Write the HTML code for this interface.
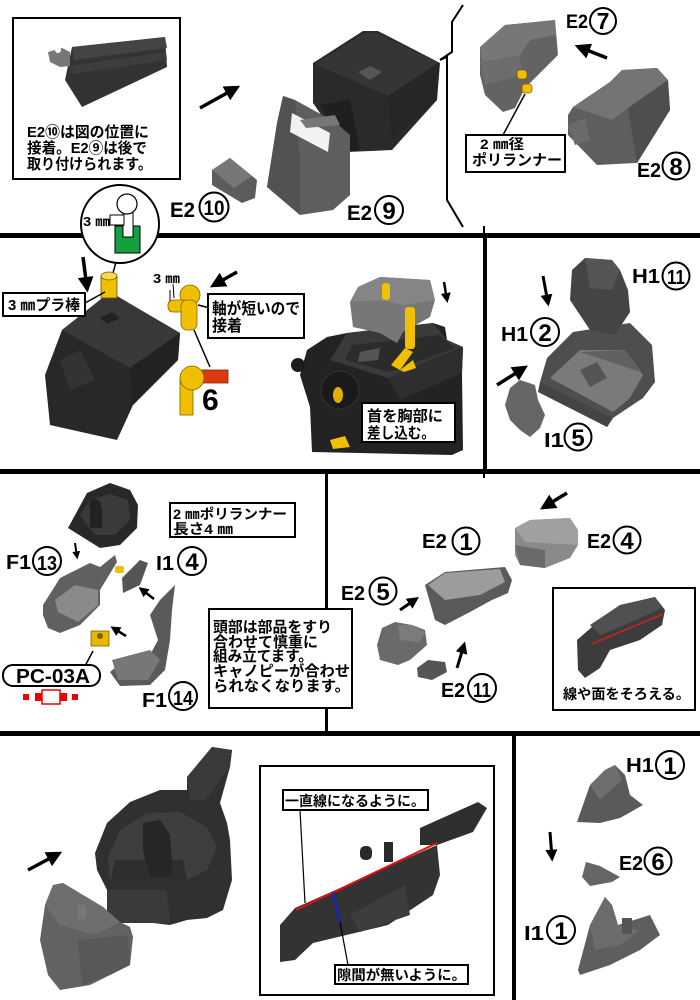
<!DOCTYPE html>
<html><head><meta charset="utf-8"><style>
html,body{margin:0;padding:0;background:#fff;}
svg{display:block;}
.t{font-family:"Liberation Sans","Noto Sans CJK JP",sans-serif;font-weight:bold;fill:#000;}
.lb{font-family:"Liberation Sans",sans-serif;font-weight:bold;fill:#000;}
.box{fill:#fff;stroke:#000;stroke-width:2;}
.cn{fill:#fff;stroke:#000;stroke-width:2;}
.ar{stroke:#000;fill:none;}
</style></head><body>
<svg width="700" height="1000" viewBox="0 0 700 1000" xmlns="http://www.w3.org/2000/svg">
<defs>
<marker id="ah" viewBox="0 0 10 10" refX="7" refY="5" markerWidth="4.5" markerHeight="4.5" orient="auto"><path d="M0,0 L10,5 L0,10 z" fill="#000"/></marker>
<marker id="as" viewBox="0 0 10 10" refX="7" refY="5" markerWidth="4" markerHeight="4" orient="auto"><path d="M0,0 L10,5 L0,10 z" fill="#000"/></marker>
</defs>
<rect width="700" height="1000" fill="#fff"/>

<!-- panel lines -->
<rect x="0" y="233" width="700" height="5" fill="#000"/>
<rect x="0" y="469" width="700" height="5" fill="#000"/>
<rect x="0" y="731" width="700" height="5" fill="#000"/>
<rect x="483" y="236" width="4" height="235" fill="#000"/>
<rect x="483" y="226" width="2" height="8" fill="#000"/>
<rect x="483" y="473" width="2" height="5" fill="#000"/>
<rect x="325" y="472" width="3" height="261" fill="#000"/>
<rect x="512" y="734" width="4" height="266" fill="#000"/>

<!-- ===== ROW 1 ===== -->
<rect class="box" x="13" y="18" width="167" height="161"/>
<polygon points="65,80 72,47 165,37 167,67 82,107" fill="#333"/>
<polygon points="72,47 165,37 167,48 74,60" fill="#444"/>
<polygon points="70,66 166,52 167,60 72,74" fill="#3d3d3d"/>
<polygon points="48,52 62,48 70,52 70,66 60,67 50,62" fill="#777"/>
<circle cx="58" cy="50" r="3" fill="#fff"/>
<text class="t" x="27" y="137" font-size="15" textLength="122" lengthAdjust="spacingAndGlyphs">E2⑩は図の位置に</text>
<text class="t" x="27" y="153" font-size="15" textLength="120" lengthAdjust="spacingAndGlyphs">接着。E2⑨は後で</text>
<text class="t" x="27" y="169" font-size="15" textLength="125" lengthAdjust="spacingAndGlyphs">取り付けられます。</text>

<line class="ar" x1="200" y1="108" x2="236" y2="88" stroke-width="3.5" marker-end="url(#ah)"/>

<!-- big black block -->
<polygon points="313,63 363,31 378,31 440,63 437,100 392,150 347,152 313,103" fill="#2a2a2a"/>
<polygon points="315,64 364,33 377,33 438,63 388,96" fill="#353535"/>
<polygon points="358,72 370,66 382,72 370,80" fill="#555"/>
<polygon points="388,96 438,63 437,100 392,140" fill="#262626"/>
<polygon points="320,105 350,100 360,150 347,152" fill="#1f1f1f"/>
<!-- E2 9 gray frame -->
<polygon points="283,96 295,100 335,122 350,135 350,195 333,210 300,215 267,187 277,123" fill="#5e5e5e"/>
<polygon points="283,96 295,100 300,160 300,215 267,187 277,123" fill="#525252"/>
<polygon points="292,113 330,133 328,152 290,132" fill="#f2f2f2"/>
<polygon points="300,120 335,115 340,125 306,128" fill="#777"/>
<!-- E2 10 -->
<polygon points="212,170 230,158 257,180 255,198 242,203 212,185" fill="#5c5c5c"/>
<polygon points="212,170 230,158 252,176 234,188" fill="#777"/>
<text class="lb" x="170" y="217" font-size="21" textLength="25" lengthAdjust="spacingAndGlyphs">E2</text>
<circle class="cn" cx="214" cy="207" r="14.5"/>
<text class="lb" x="214" y="215" font-size="21" text-anchor="middle" textLength="21" lengthAdjust="spacingAndGlyphs">10</text>
<text class="lb" x="347" y="220" font-size="21" textLength="25" lengthAdjust="spacingAndGlyphs">E2</text>
<circle class="cn" cx="389" cy="210" r="14"/>
<text class="lb" x="389" y="219" font-size="24" text-anchor="middle">9</text>

<!-- curly brace -->
<path d="M463,5 L452,22 L452,52 L440,60 L447,57 L447,200 L463,227" fill="none" stroke="#000" stroke-width="2"/>

<!-- E2 7 -->
<polygon points="480,47 505,25 555,20 558,55 525,88 515,108 503,112 485,95 480,75" fill="#636363"/>
<polygon points="480,47 505,25 555,20 556,35 530,40 520,55 482,62" fill="#777"/>
<polygon points="480,62 520,55 522,75 485,85" fill="#6d6d6d"/>
<rect x="517" y="70" width="10" height="9" rx="3" fill="#f0c000" stroke="#806000" stroke-width="0.8"/>
<rect x="522" y="84" width="10" height="9" rx="3" fill="#f0c000" stroke="#806000" stroke-width="0.8"/>
<line x1="525" y1="94" x2="503" y2="135" stroke="#000" stroke-width="1.5"/>
<rect class="box" x="466" y="135" width="99" height="37"/>
<text class="t" x="480" y="149" font-size="14" textLength="44" lengthAdjust="spacingAndGlyphs">2 ㎜径</text>
<text class="t" x="472" y="165" font-size="15" textLength="90" lengthAdjust="spacingAndGlyphs">ポリランナー</text>
<text class="lb" x="566" y="28" font-size="19" textLength="22" lengthAdjust="spacingAndGlyphs">E2</text>
<circle class="cn" cx="603" cy="21" r="13"/>
<text class="lb" x="603" y="29" font-size="23" text-anchor="middle">7</text>
<line class="ar" x1="607" y1="58" x2="579" y2="47" stroke-width="3.5" marker-end="url(#ah)"/>
<!-- E2 8 -->
<polygon points="573,107 610,82 622,70 657,68 668,80 670,110 637,163 597,165 568,135 568,115" fill="#5e5e5e"/>
<polygon points="573,107 610,82 622,70 657,68 668,80 628,108 612,120" fill="#747474"/>
<polygon points="628,108 668,80 670,110 637,163" fill="#4e4e4e"/>
<polygon points="568,125 585,118 590,140 575,145" fill="#6a6a6a"/>
<text class="lb" x="637" y="177" font-size="20" textLength="24" lengthAdjust="spacingAndGlyphs">E2</text>
<circle class="cn" cx="676" cy="166" r="13.5"/>
<text class="lb" x="676" y="175" font-size="24" text-anchor="middle">8</text>

<!-- circle icon -->
<circle cx="120" cy="224" r="39" fill="#fff" stroke="#000" stroke-width="2"/>
<rect x="115" y="226" width="25" height="27" fill="#14a040" stroke="#000" stroke-width="1"/>
<rect x="123" y="207" width="10" height="30" fill="#fff" stroke="#000" stroke-width="1"/>
<rect x="110" y="215" width="14" height="10" fill="#fff" stroke="#000" stroke-width="1"/>
<circle cx="127" cy="204" r="10" fill="#fff" stroke="#000" stroke-width="1.2"/>
<text class="t" x="83" y="226" font-size="13" textLength="27" lengthAdjust="spacingAndGlyphs">3 ㎜</text>
<line x1="116" y1="262" x2="113" y2="273" stroke="#000" stroke-width="1.5"/>

<!-- ===== ROW 2 ===== -->
<line class="ar" x1="83" y1="257" x2="87" y2="288" stroke-width="3.5" marker-end="url(#ah)"/>
<polygon points="62,330 110,292 180,333 178,360 133,405 117,440 50,425 45,375" fill="#282828"/>
<polygon points="62,330 110,292 180,333 130,368" fill="#383838"/>
<polygon points="100,318 112,312 120,318 108,324" fill="#222"/>
<polygon points="60,360 80,350 95,380 70,390" fill="#333"/>
<polygon points="130,368 180,333 178,360 133,405" fill="#222"/>
<rect x="101" y="276" width="16" height="22" fill="#f0c000" stroke="#6a5200" stroke-width="0.8"/>
<ellipse cx="109" cy="276" rx="8" ry="4" fill="#ffd84a" stroke="#6a5200" stroke-width="0.8"/>
<line x1="85" y1="303" x2="105" y2="292" stroke="#000" stroke-width="1.5"/>
<rect class="box" x="3" y="293" width="82" height="23"/>
<text class="t" x="8" y="310" font-size="15" textLength="72" lengthAdjust="spacingAndGlyphs">3 ㎜プラ棒</text>

<text class="t" x="153" y="283" font-size="13" textLength="27" lengthAdjust="spacingAndGlyphs">3 ㎜</text>
<line x1="173" y1="284" x2="174" y2="298" stroke="#000" stroke-width="1"/>
<line x1="170" y1="290" x2="170" y2="304" stroke="#000" stroke-width="1"/>
<circle cx="190" cy="295" r="10" fill="#f0c000" stroke="#806000" stroke-width="0.8"/>
<rect x="168" y="300" width="20" height="12" rx="5" fill="#f0c000" stroke="#806000" stroke-width="0.8"/>
<rect x="181" y="300" width="16" height="30" rx="6" fill="#f0c000" stroke="#806000" stroke-width="0.8"/>
<line class="ar" x1="237" y1="272" x2="214" y2="285" stroke-width="3.5" marker-end="url(#ah)"/>
<line x1="198" y1="305" x2="210" y2="308" stroke="#000" stroke-width="1.5"/>
<rect class="box" x="208" y="294" width="96" height="44"/>
<text class="t" x="212" y="314" font-size="16" textLength="88" lengthAdjust="spacingAndGlyphs">軸が短いので</text>
<text class="t" x="212" y="331" font-size="16" textLength="30" lengthAdjust="spacingAndGlyphs">接着</text>
<line x1="194" y1="330" x2="210" y2="367" stroke="#000" stroke-width="1.5"/>
<rect x="180" y="380" width="13" height="35" fill="#f0c000" stroke="#806000" stroke-width="0.8"/>
<rect x="202" y="370" width="26" height="13" fill="#dd3a10" stroke="#802000" stroke-width="0.8"/>
<circle cx="192" cy="378" r="12" fill="#f0c000" stroke="#806000" stroke-width="0.8"/>
<text class="lb" x="202" y="410" font-size="30">6</text>

<!-- robot -->
<polygon points="307,350 327,337 347,333 433,323 445,327 447,340 463,347 462,373 463,450 452,455 312,452 310,407 300,375" fill="#232323"/>
<polygon points="347,333 433,323 447,340 463,347 388,378 330,360" fill="#3a3a3a"/>
<polygon points="352,345 440,335 455,348 390,372 345,360" fill="#2b2b2b"/>
<polygon points="360,352 380,348 378,360 358,362" fill="#555"/>
<polygon points="388,378 463,348 462,373 400,400" fill="#2e2e2e"/>
<circle cx="298" cy="365" r="7" fill="#1c1c1c"/>
<circle cx="340" cy="390" r="19" fill="#1a1a1a" stroke="#333" stroke-width="1"/>
<ellipse cx="338" cy="395" rx="5" ry="8" fill="#e0b000"/>
<polygon points="330,440 345,436 350,447 333,449" fill="#f0c000"/>
<polygon points="350,302 358,287 380,277 430,280 435,300 430,317 403,332 397,343 380,333 353,327" fill="#777"/>
<polygon points="350,302 358,287 380,277 430,280 435,300 405,305 380,300" fill="#858585"/>
<rect x="382" y="283" width="8" height="17" rx="3" fill="#f0c000"/>
<rect x="405" y="307" width="10" height="42" rx="3" fill="#f0c000"/>
<polygon points="391,365 405,348 413,352 400,370" fill="#f0c000"/>
<polygon points="400,370 413,360 416,368 404,372" fill="#f0c000"/>
<line class="ar" x1="444" y1="282" x2="447" y2="300" stroke-width="2.5" marker-end="url(#as)"/>
<rect class="box" x="362" y="403" width="93" height="39"/>
<text class="t" x="367" y="421" font-size="15" textLength="76" lengthAdjust="spacingAndGlyphs">首を胸部に</text>
<text class="t" x="367" y="438" font-size="15" textLength="68" lengthAdjust="spacingAndGlyphs">差し込む。</text>

<!-- row2 right panel -->
<text class="lb" x="632" y="283" font-size="20" textLength="28" lengthAdjust="spacingAndGlyphs">H1</text>
<circle class="cn" cx="676" cy="276" r="13.5"/>
<text class="lb" x="676" y="284" font-size="20" text-anchor="middle" textLength="18" lengthAdjust="spacingAndGlyphs">11</text>
<line class="ar" x1="543" y1="276" x2="548" y2="303" stroke-width="3" marker-end="url(#as)"/>
<text class="lb" x="501" y="341" font-size="20" textLength="27" lengthAdjust="spacingAndGlyphs">H1</text>
<circle class="cn" cx="545" cy="332" r="14"/>
<text class="lb" x="545" y="341" font-size="24" text-anchor="middle">2</text>
<!-- seat -->
<polygon points="540,382 547,358 573,332 630,323 652,345 655,382 643,398 613,418 607,427" fill="#4e4e4e"/>
<polygon points="550,378 580,350 625,350 643,375 630,398 613,412" fill="#7a7a7a"/>
<polygon points="580,352 625,350 640,372 605,360" fill="#606060"/>
<polygon points="580,370 597,362 607,378 590,387" fill="#555"/>
<polygon points="540,382 613,418 607,427 538,392" fill="#444"/>
<polygon points="572,270 585,258 612,260 620,270 628,290 630,312 615,335 590,330 570,300" fill="#444"/>
<polygon points="585,258 612,260 620,270 612,290 590,288" fill="#555"/>
<line class="ar" x1="497" y1="385" x2="524" y2="368" stroke-width="3.5" marker-end="url(#ah)"/>
<polygon points="510,388 520,380 535,385 538,400 545,415 540,428 530,437 520,430 510,420 505,405" fill="#666"/>
<text class="lb" x="544" y="447" font-size="20" textLength="20" lengthAdjust="spacingAndGlyphs">I1</text>
<circle class="cn" cx="578" cy="437" r="13.5"/>
<text class="lb" x="578" y="446" font-size="24" text-anchor="middle">5</text>

<!-- ===== ROW 3 ===== -->
<polygon points="68,528 87,493 110,483 130,490 138,505 137,528 120,545 100,548" fill="#282828"/>
<polygon points="80,515 90,500 110,494 128,500 130,520 115,535 95,535" fill="#3a3a3a"/>
<circle cx="95" cy="505" r="6" fill="#222"/>
<rect x="90" y="508" width="12" height="20" fill="#222"/>
<rect class="box" x="170" y="503" width="125" height="34"/>
<text class="t" x="173" y="519" font-size="14" textLength="114" lengthAdjust="spacingAndGlyphs">2 ㎜ポリランナー</text>
<text class="t" x="173" y="534" font-size="14" textLength="60" lengthAdjust="spacingAndGlyphs">長さ4 ㎜</text>
<line class="ar" x1="75" y1="543" x2="77" y2="557" stroke-width="2" marker-end="url(#as)"/>
<text class="lb" x="6" y="569" font-size="20" textLength="25" lengthAdjust="spacingAndGlyphs">F1</text>
<circle class="cn" cx="47" cy="561" r="14"/>
<text class="lb" x="47" y="570" font-size="20" text-anchor="middle" textLength="20" lengthAdjust="spacingAndGlyphs">13</text>
<polygon points="43,605 60,578 90,563 100,567 115,555 117,562 100,590 100,605 80,625 60,633 48,628 43,615" fill="#606060"/>
<polygon points="55,600 75,585 98,590 98,605 78,622 58,612" fill="#8a8a8a"/>
<rect x="115" y="566" width="9" height="7" rx="2" fill="#f0c000"/>
<polygon points="122,578 140,560 148,563 140,585 123,593" fill="#555"/>
<text class="lb" x="156" y="570" font-size="20" textLength="18" lengthAdjust="spacingAndGlyphs">I1</text>
<circle class="cn" cx="192" cy="561" r="14"/>
<text class="lb" x="192" y="570" font-size="24" text-anchor="middle">4</text>
<line class="ar" x1="154" y1="599" x2="141" y2="589" stroke-width="2.5" marker-end="url(#as)"/>
<line class="ar" x1="126" y1="636" x2="113" y2="628" stroke-width="2.5" marker-end="url(#as)"/>
<polygon points="160,600 175,585 172,610 170,640 165,670 150,685 120,686 110,672 125,660 150,655 158,640 150,615" fill="#5a5a5a"/>
<polygon points="112,660 150,650 160,660 148,680 118,680" fill="#777"/>
<rect x="91" y="631" width="18" height="15" fill="#e8b800" stroke="#806000" stroke-width="0.8"/>
<circle cx="100" cy="636" r="3" fill="#806000"/>
<line x1="93" y1="651" x2="85" y2="666" stroke="#000" stroke-width="1.5"/>
<rect x="3" y="665" width="97" height="21" rx="10" fill="#fff" stroke="#000" stroke-width="2"/>
<text class="lb" x="16" y="683" font-size="20" textLength="74" lengthAdjust="spacingAndGlyphs">PC-03A</text>
<rect x="23" y="694" width="6" height="6" fill="#e00"/>
<rect x="35" y="693" width="7" height="8" fill="#e00"/>
<rect x="42" y="690" width="18" height="14" fill="#fff" stroke="#e00" stroke-width="1.5"/>
<rect x="60" y="693" width="7" height="8" fill="#e00"/>
<rect x="72" y="694" width="6" height="6" fill="#e00"/>
<text class="lb" x="142" y="707" font-size="20" textLength="25" lengthAdjust="spacingAndGlyphs">F1</text>
<circle class="cn" cx="183" cy="696" r="14"/>
<text class="lb" x="183" y="705" font-size="20" text-anchor="middle" textLength="20" lengthAdjust="spacingAndGlyphs">14</text>

<rect class="box" x="209" y="609" width="143" height="99"/>
<text class="t" x="213" y="632" font-size="15" textLength="119" lengthAdjust="spacingAndGlyphs">頭部は部品をすり</text>
<text class="t" x="213" y="647" font-size="15" textLength="105" lengthAdjust="spacingAndGlyphs">合わせて慎重に</text>
<text class="t" x="213" y="661" font-size="15" textLength="100" lengthAdjust="spacingAndGlyphs">組み立てます。</text>
<text class="t" x="213" y="676" font-size="15" textLength="137" lengthAdjust="spacingAndGlyphs">キャノピーが合わせ</text>
<text class="t" x="213" y="691" font-size="15" textLength="137" lengthAdjust="spacingAndGlyphs">られなくなります。</text>

<!-- row3 right -->
<line class="ar" x1="567" y1="493" x2="544" y2="507" stroke-width="3.5" marker-end="url(#ah)"/>
<polygon points="515,528 530,520 570,518 578,530 578,545 570,558 545,568 520,565 515,555" fill="#8a8a8a"/>
<polygon points="515,528 530,520 570,518 578,530 578,545 525,542" fill="#a0a0a0"/>
<polygon points="515,545 545,550 545,568 520,565" fill="#6a6a6a"/>
<text class="lb" x="587" y="548" font-size="20" textLength="24" lengthAdjust="spacingAndGlyphs">E2</text>
<circle class="cn" cx="627" cy="540" r="13.5"/>
<text class="lb" x="627" y="549" font-size="24" text-anchor="middle">4</text>
<text class="lb" x="422" y="548" font-size="20" textLength="25" lengthAdjust="spacingAndGlyphs">E2</text>
<circle class="cn" cx="466" cy="541" r="13.5"/>
<text class="lb" x="466" y="550" font-size="24" text-anchor="middle">1</text>
<polygon points="425,585 445,572 505,567 512,580 508,593 492,600 470,612 445,625 435,620" fill="#5a5a5a"/>
<polygon points="428,585 445,573 500,569 505,582 480,595 445,600" fill="#9c9c9c"/>
<text class="lb" x="341" y="600" font-size="20" textLength="24" lengthAdjust="spacingAndGlyphs">E2</text>
<circle class="cn" cx="383" cy="591" r="13.5"/>
<text class="lb" x="383" y="600" font-size="24" text-anchor="middle">5</text>
<line class="ar" x1="400" y1="610" x2="416" y2="599" stroke-width="3" marker-end="url(#as)"/>
<polygon points="382,628 395,622 412,625 425,630 427,645 410,660 398,665 380,660 377,645" fill="#6a6a6a"/>
<polygon points="398,625 412,625 425,632 420,642 400,640" fill="#7c7c7c"/>
<polygon points="417,668 428,660 445,662 447,672 432,680 418,677" fill="#555"/>
<line class="ar" x1="457" y1="668" x2="464" y2="645" stroke-width="3" marker-end="url(#as)"/>
<text class="lb" x="441" y="697" font-size="20" textLength="24" lengthAdjust="spacingAndGlyphs">E2</text>
<circle class="cn" cx="482" cy="688" r="14"/>
<text class="lb" x="482" y="697" font-size="20" text-anchor="middle" textLength="18" lengthAdjust="spacingAndGlyphs">11</text>
<rect class="box" x="553" y="588" width="142" height="122"/>
<polygon points="577,640 600,620 620,605 655,597 665,610 662,625 640,640 610,650 600,668 585,678 578,670" fill="#3c3c3c"/>
<polygon points="590,625 620,605 655,597 662,608 625,625 600,635" fill="#505050"/>
<line x1="592" y1="644" x2="663" y2="614" stroke="#d02020" stroke-width="1.5"/>
<text class="t" x="563" y="699" font-size="14" textLength="127" lengthAdjust="spacingAndGlyphs">線や面をそろえる。</text>

<!-- ===== ROW 4 ===== -->
<line class="ar" x1="28" y1="870" x2="58" y2="854" stroke-width="3.5" marker-end="url(#ah)"/>
<polygon points="95,853 107,823 130,802 160,790 187,790 187,777 212,747 232,750 230,767 220,803 227,823 230,840 232,880 223,910 207,918 187,920 170,925 153,923 107,923 107,890 97,870" fill="#303030"/>
<polygon points="108,857 120,830 147,813 180,812 207,827 217,847 207,870 187,880 110,883" fill="#3e3e3e"/>
<polygon points="115,860 183,860 187,880 110,883" fill="#2e2e2e"/>
<polygon points="143,823 160,820 170,835 173,877 150,877 143,850" fill="#262626"/>
<polygon points="187,777 212,747 232,750 230,767 205,800 190,800" fill="#3a3a3a"/>
<polygon points="107,890 167,890 170,923 107,923" fill="#3a3a3a"/>
<polygon points="53,885 63,883 103,907 120,922 130,927 133,937 130,965 110,975 90,985 60,990 48,975 40,940 45,905" fill="#626262"/>
<polygon points="53,885 63,883 103,907 120,922 95,935 60,925 45,905" fill="#6e6e6e"/>
<polygon points="78,940 128,935 130,965 110,975 82,985" fill="#585858"/>
<rect x="78" y="905" width="8" height="14" fill="#777"/>

<rect class="box" x="260" y="766" width="234" height="229"/>
<polygon points="280,925 295,908 437,845 440,875 433,895 388,925 313,943 295,960 280,962" fill="#333"/>
<polygon points="420,828 478,802 487,808 473,832 437,845 420,845" fill="#2e2e2e"/>
<polygon points="350,915 405,885 410,915 360,932" fill="#3d3d3d"/>
<rect x="360" y="846" width="12" height="14" rx="5" fill="#2a2a2a"/>
<rect x="384" y="842" width="9" height="20" fill="#2a2a2a"/>
<line x1="296" y1="910" x2="437" y2="843" stroke="#e01010" stroke-width="2"/>
<line x1="333" y1="892" x2="340" y2="922" stroke="#1020e0" stroke-width="2"/>
<line x1="300" y1="810" x2="305" y2="903" stroke="#000" stroke-width="1.2"/>
<line x1="340" y1="922" x2="348" y2="965" stroke="#000" stroke-width="1.2"/>
<rect class="box" x="283" y="790" width="145" height="20"/>
<text class="t" x="285" y="806" font-size="14" textLength="140" lengthAdjust="spacingAndGlyphs">一直線になるように。</text>
<rect class="box" x="335" y="965" width="133" height="19"/>
<text class="t" x="337" y="980" font-size="14" textLength="129" lengthAdjust="spacingAndGlyphs">隙間が無いように。</text>

<!-- row4 right -->
<text class="lb" x="626" y="772" font-size="20" textLength="28" lengthAdjust="spacingAndGlyphs">H1</text>
<circle class="cn" cx="670" cy="765" r="14"/>
<text class="lb" x="670" y="774" font-size="24" text-anchor="middle">1</text>
<polygon points="577,822 590,785 605,770 615,765 625,775 630,795 643,805 620,818 600,823" fill="#5a5a5a"/>
<polygon points="590,785 605,770 615,765 622,780 600,800" fill="#6e6e6e"/>
<line class="ar" x1="550" y1="832" x2="552" y2="858" stroke-width="3" marker-end="url(#as)"/>
<text class="lb" x="619" y="870" font-size="20" textLength="24" lengthAdjust="spacingAndGlyphs">E2</text>
<circle class="cn" cx="658" cy="861" r="13.5"/>
<text class="lb" x="658" y="870" font-size="24" text-anchor="middle">6</text>
<polygon points="582,877 586,862 600,866 620,877 612,882 590,886" fill="#666"/>
<text class="lb" x="524" y="940" font-size="20" textLength="20" lengthAdjust="spacingAndGlyphs">I1</text>
<circle class="cn" cx="561" cy="930" r="14"/>
<text class="lb" x="561" y="939" font-size="24" text-anchor="middle">1</text>
<polygon points="578,970 590,925 605,897 612,905 618,925 650,915 660,935 640,950 610,965 580,975" fill="#5e5e5e"/>
<polygon points="590,925 605,897 612,905 618,925 640,930 620,945 595,950" fill="#6c6c6c"/>
<rect x="622" y="918" width="10" height="16" fill="#555"/>
</svg>
</body></html>
